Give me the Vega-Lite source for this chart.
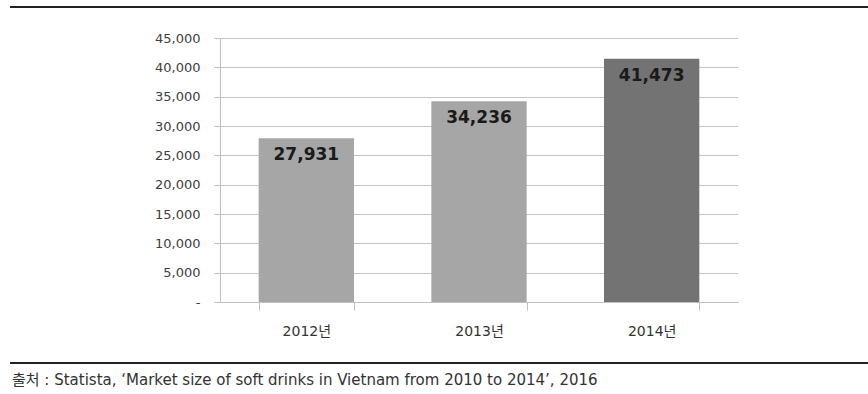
{
  "$schema": "https://vega.github.io/schema/vega-lite/v6.json",
  "width": 858,
  "height": 356,
  "autosize": {"type": "none"},
  "padding": {"left": 10, "top": 7, "right": 0, "bottom": 31},
  "background": "white",
  "config": {"view": {"stroke": null}},
  "title": {
    "text": "출처 : Statista, ‘Market size of soft drinks in Vietnam from 2010 to 2014’, 2016",
    "orient": "bottom",
    "anchor": "start",
    "frame": "group",
    "offset": 9,
    "dx": 2,
    "font": "DejaVu Sans, Noto Sans CJK KR",
    "fontSize": 15,
    "fontWeight": "normal",
    "color": "#333333"
  },
  "datasets": {
    "bars": [
      {"year": "2012년", "value": 27931},
      {"year": "2013년", "value": 34236},
      {"year": "2014년", "value": 41473}
    ]
  },
  "layer": [
    {
      "data": {"name": "bars"},
      "mark": {"type": "bar"},
      "encoding": {
        "x": {
          "field": "year",
          "type": "nominal",
          "sort": null,
          "scale": {"range": [210, 728], "paddingInner": 0.448, "paddingOuter": 0.224},
          "axis": {
            "title": null,
            "offset": -61,
            "tickBand": "extent",
            "tickSize": 8,
            "labelPadding": 14,
            "labelAngle": 0,
            "labelFont": "DejaVu Sans, Noto Sans CJK KR",
            "labelFontSize": 14,
            "labelColor": "#333333",
            "domainColor": "#bfbfbf",
            "tickColor": "#bfbfbf",
            "grid": false
          }
        },
        "y": {
          "field": "value",
          "type": "quantitative",
          "scale": {"domain": [0, 45000], "range": [295, 31], "nice": false, "zero": true},
          "axis": {
            "title": null,
            "values": [0, 5000, 10000, 15000, 20000, 25000, 30000, 35000, 40000, 45000],
            "labelOverlap": false,
            "offset": -210,
            "grid": true,
            "gridColor": "#c4c4c4",
            "domainColor": "#bfbfbf",
            "tickColor": "#bfbfbf",
            "tickSize": 6,
            "labelPadding": 14,
            "labelFont": "DejaVu Sans",
            "labelFontSize": 13,
            "labelColor": "#404040",
            "labelExpr": "datum.value == 0 ? '-' : format(datum.value, ',')"
          }
        },
        "color": {
          "field": "year",
          "type": "nominal",
          "scale": {"domain": ["2012년", "2013년", "2014년"], "range": ["#a6a6a6", "#a6a6a6", "#737373"]},
          "legend": null
        }
      }
    },
    {
      "data": {"name": "bars"},
      "mark": {"type": "text", "dy": 17, "baseline": "middle", "font": "DejaVu Sans", "fontWeight": "bold", "fontSize": 17, "color": "#1a1a1a"},
      "encoding": {
        "x": {
          "field": "year",
          "type": "nominal",
          "sort": null,
          "scale": {"range": [210, 728], "paddingInner": 0.448, "paddingOuter": 0.224},
          "axis": {
            "title": null,
            "offset": -61,
            "tickBand": "extent",
            "tickSize": 8,
            "labelPadding": 14,
            "labelAngle": 0,
            "labelFont": "DejaVu Sans, Noto Sans CJK KR",
            "labelFontSize": 14,
            "labelColor": "#333333",
            "domainColor": "#bfbfbf",
            "tickColor": "#bfbfbf",
            "grid": false
          }
        },
        "y": {
          "field": "value",
          "type": "quantitative",
          "scale": {"domain": [0, 45000], "range": [295, 31], "nice": false, "zero": true},
          "axis": {
            "title": null,
            "values": [0, 5000, 10000, 15000, 20000, 25000, 30000, 35000, 40000, 45000],
            "labelOverlap": false,
            "offset": -210,
            "grid": true,
            "gridColor": "#c4c4c4",
            "domainColor": "#bfbfbf",
            "tickColor": "#bfbfbf",
            "tickSize": 6,
            "labelPadding": 14,
            "labelFont": "DejaVu Sans",
            "labelFontSize": 13,
            "labelColor": "#404040",
            "labelExpr": "datum.value == 0 ? '-' : format(datum.value, ',')"
          }
        },
        "text": {"field": "value", "type": "quantitative", "format": ","}
      }
    },
    {
      "data": {"values": [{}]},
      "mark": {"type": "rule", "color": "#222222", "strokeWidth": 2},
      "encoding": {
        "y": {
          "datum": 50284,
          "type": "quantitative",
          "scale": {"domain": [0, 45000], "range": [295, 31], "nice": false, "zero": true},
          "axis": {
            "title": null,
            "values": [0, 5000, 10000, 15000, 20000, 25000, 30000, 35000, 40000, 45000],
            "labelOverlap": false,
            "offset": -210,
            "grid": true,
            "gridColor": "#c4c4c4",
            "domainColor": "#bfbfbf",
            "tickColor": "#bfbfbf",
            "tickSize": 6,
            "labelPadding": 14,
            "labelFont": "DejaVu Sans",
            "labelFontSize": 13,
            "labelColor": "#404040",
            "labelExpr": "datum.value == 0 ? '-' : format(datum.value, ',')"
          }
        }
      }
    },
    {
      "data": {"values": [{}]},
      "mark": {"type": "rule", "color": "#222222", "strokeWidth": 2},
      "encoding": {
        "y": {
          "datum": -10398,
          "type": "quantitative",
          "scale": {"domain": [0, 45000], "range": [295, 31], "nice": false, "zero": true},
          "axis": {
            "title": null,
            "values": [0, 5000, 10000, 15000, 20000, 25000, 30000, 35000, 40000, 45000],
            "labelOverlap": false,
            "offset": -210,
            "grid": true,
            "gridColor": "#c4c4c4",
            "domainColor": "#bfbfbf",
            "tickColor": "#bfbfbf",
            "tickSize": 6,
            "labelPadding": 14,
            "labelFont": "DejaVu Sans",
            "labelFontSize": 13,
            "labelColor": "#404040",
            "labelExpr": "datum.value == 0 ? '-' : format(datum.value, ',')"
          }
        }
      }
    }
  ]
}
